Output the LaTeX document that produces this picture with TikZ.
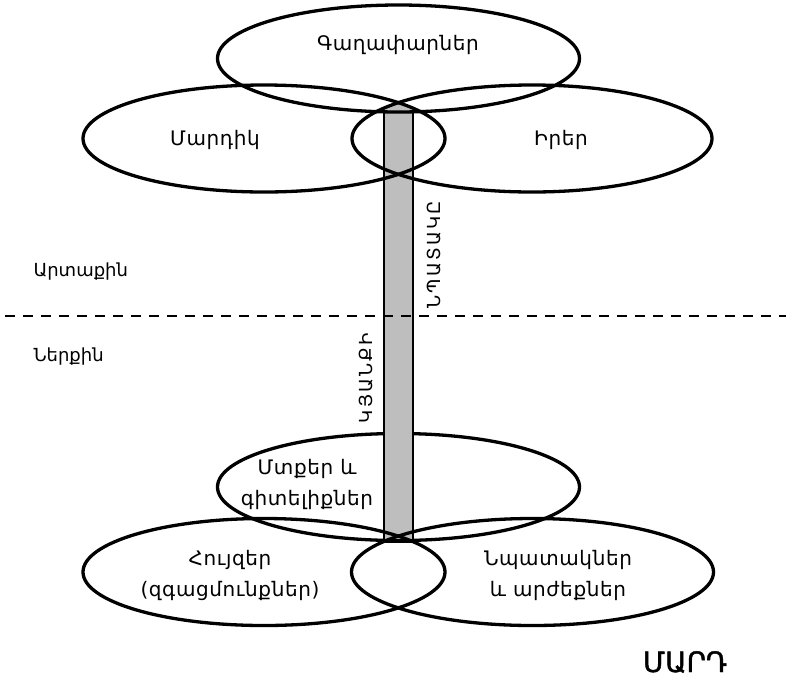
\documentclass[tikz,border=0pt]{standalone}
\usepackage{fontspec}
\setmainfont{DejaVu Sans}
\usetikzlibrary{shapes.geometric}
\definecolor{barfill}{RGB}{190,190,190}
\tikzset{
  oval/.style={ellipse, draw=black, line width=3.3pt, minimum width=362pt, minimum height=107pt, inner sep=0pt},
  lbl/.style={font=\fontsize{20}{31}\selectfont\addfontfeatures{LetterSpace=3}, align=center},
  side/.style={font=\fontsize{18}{18}\selectfont, anchor=west},
  vlbl/.style={font=\fontsize{18}{18}\selectfont\addfontfeatures{LetterSpace=12}, rotate=90}
}
\begin{document}
\begin{tikzpicture}[x=1pt,y=-1pt]
\useasboundingbox (0,0) rectangle (786,681);
% lower oval under the bar
\node[oval] (thoughts) at (398.5,487) {};
% the bar
\begin{scope}
  \clip (264,138.5) ellipse [x radius=181, y radius=53.5];
  \clip (532,138.5) ellipse [x radius=180, y radius=53.5];
  \fill[barfill] (384,90) rectangle (413,113);
\end{scope}
\fill[barfill] (384,113) rectangle (413,541);
\draw[line width=1.5pt] (384,113) -- (384,541) (413,113) -- (413,541);
\draw[line width=3.3pt] (384,541) -- (413,541);
% ovals
\node[oval] (ideas) at (398.5,58.5) {};
\node[oval] (people) at (264,138.5) {};
\node[oval, minimum width=360pt] (things) at (532,138.5) {};
\node[oval] (feelings) at (264,572) {};
\node[oval] (goals) at (532.5,572) {};
\draw[line width=1.5pt, dash pattern=on 10pt off 8pt] (5,316) -- (786,316);
% texts
\node[lbl] (ideastxt) at (398,45) {Գաղափարներ};
\node[lbl] (peopletxt) at (215,140) {Մարդիկ};
\node[lbl] (thingstxt) at (561,140) {Իրեր};
\node[lbl] (thoughtstxt) at (307,484) {Մտքեր և\\գիտելիքներ};
\node[lbl] (feelingstxt) at (230,575) {Հույզեր\\(զգացմունքներ)};
\node[lbl] (goalstxt) at (558,575) {Նպատակներ\\և արժեքներ};
\node[side] (outer) at (30,272) {Արտաքին};
\node[side] (inner) at (30,357) {Ներքին};
\node[vlbl] (aim) at (434,255) {ՆՊԱՏԱԿԸ};
\node[vlbl] (life) at (366,378) {ԿՅԱՆՔԻ};
\node[font=\fontsize{28}{28}\selectfont\addfontfeatures{FakeBold=1.5}] (human) at (685,662) {ՄԱՐԴ};
\end{tikzpicture}
\end{document}
